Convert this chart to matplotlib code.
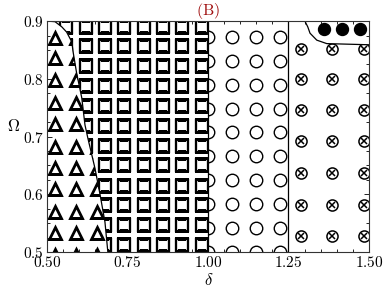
# Diagrama de fases (B): regiones con marcadores en la malla (delta, Omega)

import numpy as np
import matplotlib
matplotlib.use("Agg")
import matplotlib.pyplot as plt
from matplotlib.patches import Polygon
from matplotlib.ticker import MultipleLocator, FuncFormatter

plt.rcParams['mathtext.fontset'] = 'cm'

# ==============================
# DATOS
# ==============================
# frontera curva izquierda (triangulos | cuadrados)
borde_izq_x = [0.500, 0.525, 0.546, 0.561, 0.577, 0.581, 0.592, 0.608, 0.618, 0.627, 0.649, 0.665, 0.680, 0.689]
borde_izq_y = [0.900, 0.899, 0.890, 0.881, 0.864, 0.847, 0.810, 0.767, 0.720, 0.697, 0.645, 0.599, 0.552, 0.500]

# frontera arriba a la derecha (circulos llenos)
borde_der_x = [1.301, 1.310, 1.317, 1.338, 1.369, 1.500]
borde_der_y = [0.900, 0.890, 0.879, 0.867, 0.861, 0.859]

lineas_vert = [1.00, 1.25]

tri_x = [0.525, 0.590, 0.655]
tri_y = [0.495, 0.533, 0.569, 0.609, 0.645, 0.682, 0.722, 0.758, 0.798, 0.836, 0.871]

cua_x = [0.50, 0.56, 0.62, 0.68, 0.74, 0.80, 0.86, 0.92, 0.98]
cua_y = [0.512, 0.546, 0.581, 0.615, 0.650, 0.684, 0.718, 0.753, 0.787, 0.822, 0.856, 0.890]

cir_x = [1.000, 1.075, 1.150, 1.225]
cir_y = [0.500, 0.541, 0.583, 0.624, 0.666, 0.707, 0.748, 0.790, 0.831, 0.872]

otimes_x = [1.288, 1.385, 1.486]
otimes_y = [0.528, 0.582, 0.637, 0.692, 0.746, 0.799, 0.851]

lleno_x = [1.359, 1.416, 1.473]
lleno_y = [0.886]

# ==============================
# FIGURA
# ==============================
fig = plt.figure(figsize=(3.9, 2.93), dpi=100)
ax = fig.add_axes([0.1205, 0.14, 0.8255, 0.788])
ax.set_xlim(0.5, 1.5)
ax.set_ylim(0.5, 0.9)

izq = list(zip(borde_izq_x, borde_izq_y))
der = list(zip(borde_der_x, borde_der_y))

regiones = {
    'tri': izq + [(0.5, 0.5)],
    'cua': izq + [(1.0, 0.5), (1.0, 0.9)],
    'cir': [(1.0, 0.5), (1.25, 0.5), (1.25, 0.9), (1.0, 0.9)],
    'otimes': [(1.25, 0.5), (1.5, 0.5)] + der[::-1] + [(1.25, 0.9)],
    'lleno': der + [(1.5, 0.9)],
}
clips = {}
for k, verts in regiones.items():
    p = Polygon(verts, closed=True, facecolor='none', edgecolor='none')
    ax.add_patch(p)
    clips[k] = p


def malla(xs, ys, region, **kw):
    X, Y = np.meshgrid(xs, ys)
    for kwi in kw.pop('capas', [kw]):
        ln, = ax.plot(X.ravel(), Y.ravel(), linestyle='none', **kwi)
        ln.set_clip_path(clips[region])


malla(tri_x, tri_y, 'tri', marker='^', ms=8.4, mew=2.0, mfc='white', mec='black')
malla(cua_x, cua_y, 'cua', marker='s', ms=8.0, mew=1.65, mfc='white', mec='black')
malla(cir_x, cir_y, 'cir', marker='o', ms=9.0, mew=1.0, mfc='white', mec='black')
malla(otimes_x, otimes_y, 'otimes', capas=[
    dict(marker='o', ms=8.0, mew=1.1, mfc='white', mec='black'),
    dict(marker='x', ms=4.8, mew=1.1, mec='black'),
])
malla(lleno_x, lleno_y, 'lleno', marker='o', ms=8.6, mfc='black', mec='black')

# fronteras
ax.plot(borde_izq_x, borde_izq_y, color='black', lw=0.9)
ax.plot(borde_der_x, borde_der_y, color='black', lw=0.9)
for xv in lineas_vert:
    ax.axvline(xv, color='black', lw=0.9)

# ejes
ax.xaxis.set_major_locator(MultipleLocator(0.25))
ax.xaxis.set_minor_locator(MultipleLocator(0.05))
ax.yaxis.set_major_locator(MultipleLocator(0.1))
ax.yaxis.set_minor_locator(MultipleLocator(0.025))
ax.xaxis.set_major_formatter(FuncFormatter(lambda v, p: f'${v:.2f}$'))
ax.yaxis.set_major_formatter(FuncFormatter(lambda v, p: f'${v:.1f}$'))
ax.tick_params(which='both', direction='in', top=True, right=True, labelsize=11, width=0.6)
ax.tick_params(which='major', length=3.5)
ax.tick_params(which='minor', length=2)
ax.tick_params(axis='y', pad=2)
ax.tick_params(axis='x', pad=2)
for s in ax.spines.values():
    s.set_linewidth(0.8)
    s.set_color('#333333')

ax.set_xlabel(r'$\delta$', fontsize=12, va='center')
ax.xaxis.set_label_coords(0.503, -0.12)
ax.set_ylabel(r'$\Omega$', fontsize=12, rotation=0, va='center')
ax.yaxis.set_label_coords(-0.105, 0.545)
ax.set_title(r'$\mathrm{(B)}$', fontsize=11.5, color='#a01010', pad=3)

plt.savefig('out.png', dpi=100)
plt.close()
